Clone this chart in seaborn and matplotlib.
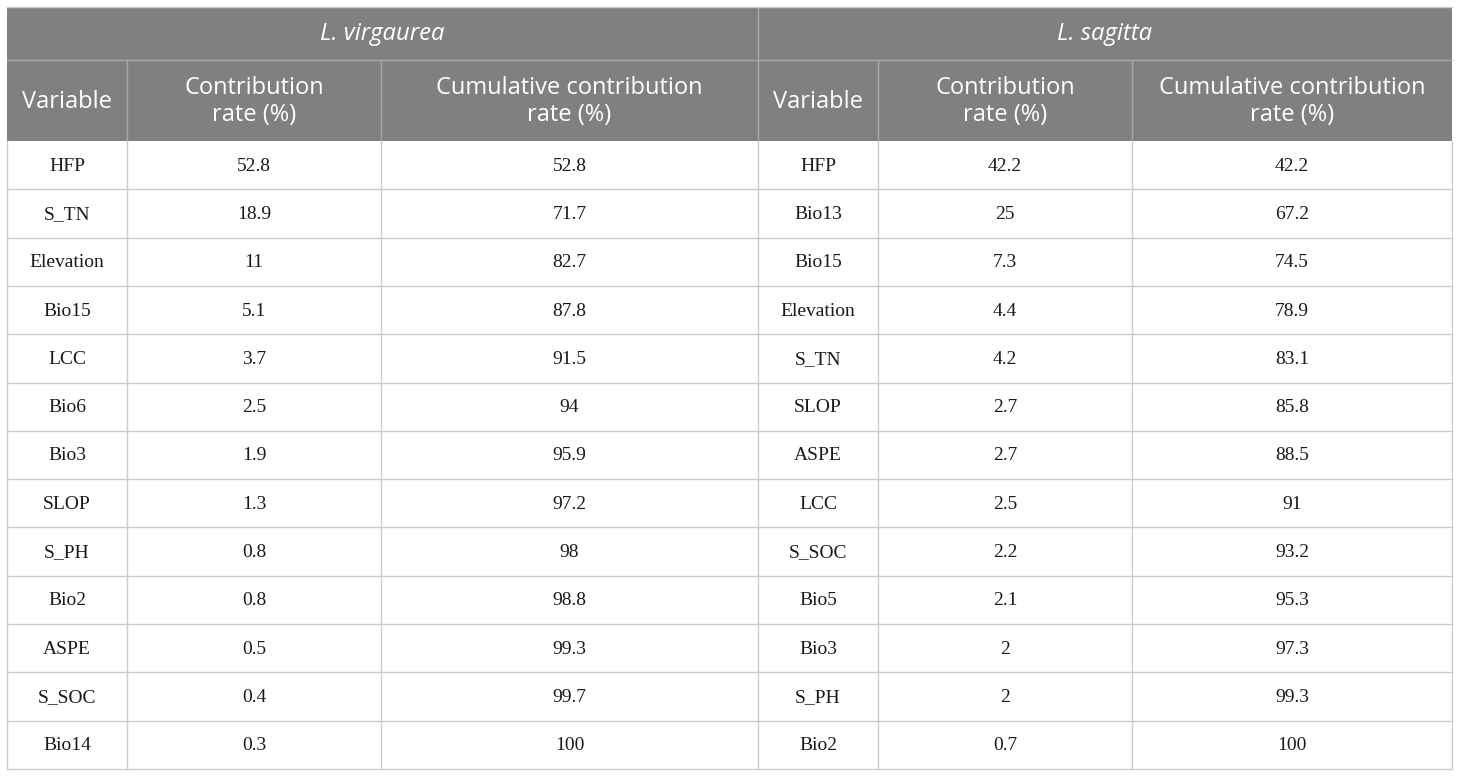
import numpy as np
import pandas as pd
import seaborn as sns
import matplotlib.pyplot as plt

# данные таблицы
species = ["L. virgaurea", "L. sagitta"]
columns = ["Variable", "Contribution\nrate (%)", "Cumulative contribution\nrate (%)"]

vir_var = ["HFP", "S_TN", "Elevation", "Bio15", "LCC", "Bio6", "Bio3",
           "SLOP", "S_PH", "Bio2", "ASPE", "S_SOC", "Bio14"]
vir_rate = [52.8, 18.9, 11, 5.1, 3.7, 2.5, 1.9, 1.3, 0.8, 0.8, 0.5, 0.4, 0.3]
vir_cum = [52.8, 71.7, 82.7, 87.8, 91.5, 94, 95.9, 97.2, 98, 98.8, 99.3, 99.7, 100]

sag_var = ["HFP", "Bio13", "Bio15", "Elevation", "S_TN", "SLOP", "ASPE",
           "LCC", "S_SOC", "Bio5", "Bio3", "S_PH", "Bio2"]
sag_rate = [42.2, 25, 7.3, 4.4, 4.2, 2.7, 2.7, 2.5, 2.2, 2.1, 2, 2, 0.7]
sag_cum = [42.2, 67.2, 74.5, 78.9, 83.1, 85.8, 88.5, 91, 93.2, 95.3, 97.3, 99.3, 100]

data = pd.DataFrame({
    "v_var": vir_var, "v_rate": vir_rate, "v_cum": vir_cum,
    "s_var": sag_var, "s_rate": sag_rate, "s_cum": sag_cum,
})

sns.set_theme(style="white")
plt.rcParams['font.family'] = ['Open Sans', 'DejaVu Sans']

# разметка (пиксели)
col_edges = [7, 127, 381, 758, 878, 1132, 1452]
y_top, y_h1, y_h2, y_bot = 7, 60, 141, 769
n = len(data)
row_h = (y_bot - y_h2) / n

header_bg = "#808080"
header_line = "#a9a9a9"
grid = "#cccccc"
body_font = ['Liberation Serif', 'DejaVu Serif']

fig = plt.figure(figsize=(14.6, 7.77), dpi=100)
ax = fig.add_axes([0, 0, 1, 1])
ax.set_xlim(0, 1460)
ax.set_ylim(777, 0)
ax.axis("off")

# шапка
ax.add_patch(plt.Rectangle((col_edges[0], y_top), col_edges[-1] - col_edges[0],
                           y_h2 - y_top, color=header_bg, lw=0))
ax.plot([col_edges[0], col_edges[-1]], [y_h1, y_h1], color=header_line, lw=1)
ax.plot([col_edges[3], col_edges[3]], [y_top, y_h2], color=header_line, lw=1)
for x in [col_edges[1], col_edges[2], col_edges[4], col_edges[5]]:
    ax.plot([x, x], [y_h1, y_h2], color=header_line, lw=1)

for k, name in enumerate(species):
    xc = (col_edges[3 * k] + col_edges[3 * k + 3]) / 2
    ax.text(xc, (y_top + y_h1) / 2, name, color="white", fontsize=17.2,
            style="italic", ha="center", va="center")
    for j, col in enumerate(columns):
        xc = (col_edges[3 * k + j] + col_edges[3 * k + j + 1]) / 2
        ax.text(xc, (y_h1 + y_h2) / 2 + 1, col, color="white", fontsize=17,
                ha="center", va="center", linespacing=1.2)

# тело таблицы
keys = ["v_var", "v_rate", "v_cum", "s_var", "s_rate", "s_cum"]
for i in range(n):
    yc = y_h2 + (i + 0.5) * row_h
    for j, key in enumerate(keys):
        val = data[key].iloc[i]
        txt = val if isinstance(val, str) else f"{val:g}"
        xc = (col_edges[j] + col_edges[j + 1]) / 2
        ax.text(xc, yc + 1, txt, color="#1a1a1a", fontsize=14, family=body_font,
                ha="center", va="center")

for i in range(1, n + 1):
    y = y_h2 + i * row_h
    ax.plot([col_edges[0], col_edges[-1]], [y, y], color=grid, lw=1)
for x in col_edges:
    ax.plot([x, x], [y_h2, y_bot], color=grid, lw=1)
ax.plot([col_edges[0], col_edges[-1]], [y_top, y_top], color=grid, lw=1)

fig.savefig("out.png", dpi=100)
